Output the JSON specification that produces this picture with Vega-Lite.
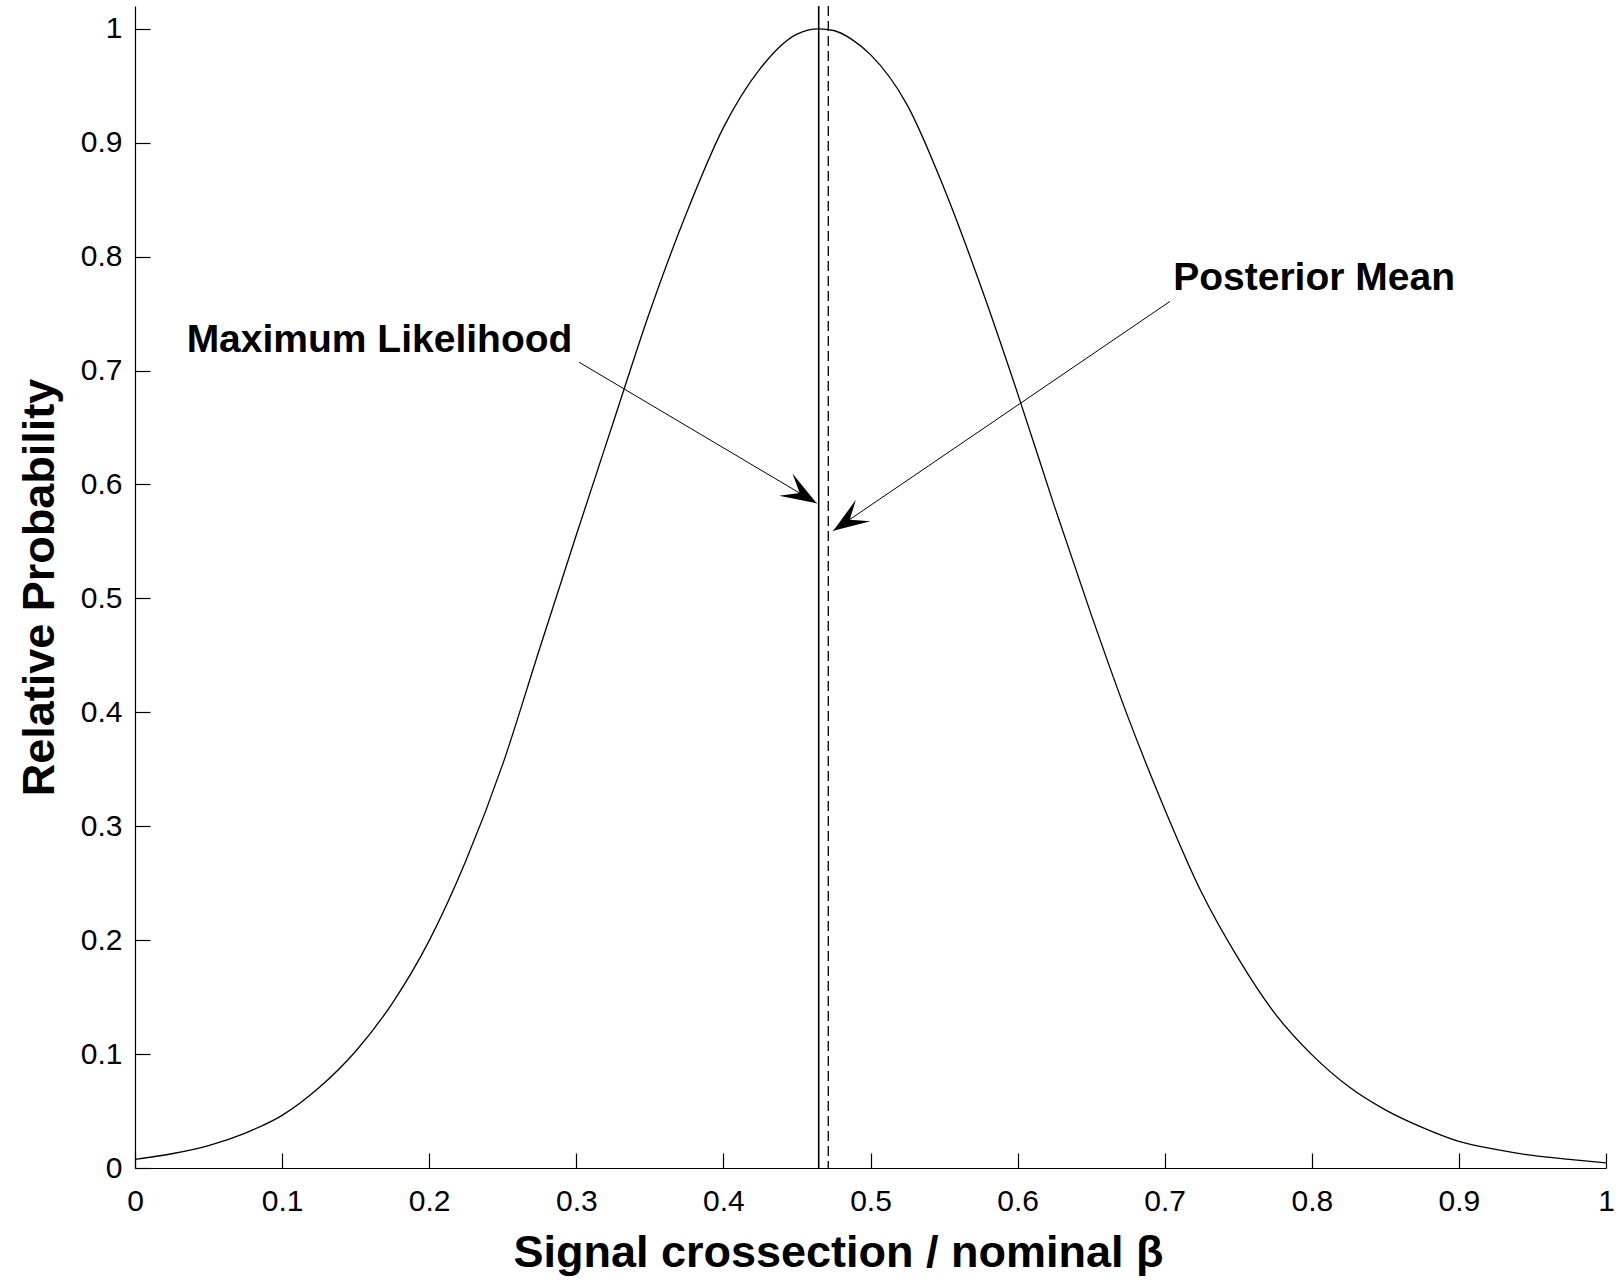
{
  "$schema": "https://vega.github.io/schema/vega-lite/v6.json",
  "width": 1471,
  "height": 1162,
  "autosize": {"type": "none"},
  "padding": {"left": 135, "top": 6, "right": 13, "bottom": 115},
  "background": "white",
  "config": {
    "view": {"stroke": null},
    "font": "Liberation Sans",
    "axis": {
      "grid": false,
      "domainColor": "black",
      "domainWidth": 1.2,
      "tickColor": "black",
      "tickWidth": 1.2,
      "tickSize": -15,
      "labelColor": "black",
      "labelFont": "Liberation Sans",
      "labelFontSize": 30,
      "titleColor": "black",
      "titleFont": "Liberation Sans",
      "titleFontSize": 45,
      "titleFontWeight": "bold"
    },
    "axisX": {"labelPadding": 33, "labelFlush": false, "titleX": 703, "titleY": 98, "titleBaseline": "alphabetic", "titleAnchor": "middle"},
    "axisY": {"labelPadding": 28, "titleX": -82, "titleY": 581, "titleBaseline": "alphabetic", "titleAngle": 270, "titleAnchor": "middle"}
  },
  "datasets": {
    "curve": [
      {"x": 0.0, "y": 0.0075}, {"x": 0.025, "y": 0.0125}, {"x": 0.05, "y": 0.0197}, {"x": 0.075, "y": 0.0307},
      {"x": 0.1, "y": 0.0462}, {"x": 0.125, "y": 0.0704}, {"x": 0.15, "y": 0.1025}, {"x": 0.175, "y": 0.1448},
      {"x": 0.2, "y": 0.1996}, {"x": 0.225, "y": 0.2699}, {"x": 0.25, "y": 0.3545}, {"x": 0.275, "y": 0.4556},
      {"x": 0.3, "y": 0.5556}, {"x": 0.325, "y": 0.654}, {"x": 0.35, "y": 0.7519}, {"x": 0.375, "y": 0.8385},
      {"x": 0.4, "y": 0.9132}, {"x": 0.425, "y": 0.965}, {"x": 0.45, "y": 0.9953}, {"x": 0.4648, "y": 1.0},
      {"x": 0.475, "y": 0.9985}, {"x": 0.4875, "y": 0.9905}, {"x": 0.5, "y": 0.9773}, {"x": 0.525, "y": 0.933},
      {"x": 0.55, "y": 0.86}, {"x": 0.575, "y": 0.774}, {"x": 0.6, "y": 0.68}, {"x": 0.625, "y": 0.581},
      {"x": 0.65, "y": 0.486}, {"x": 0.675, "y": 0.396}, {"x": 0.7, "y": 0.315}, {"x": 0.725, "y": 0.242},
      {"x": 0.75, "y": 0.184}, {"x": 0.775, "y": 0.1355}, {"x": 0.8, "y": 0.0995}, {"x": 0.825, "y": 0.0715},
      {"x": 0.85, "y": 0.051}, {"x": 0.875, "y": 0.0356}, {"x": 0.9, "y": 0.0233}, {"x": 0.925, "y": 0.0163},
      {"x": 0.95, "y": 0.011}, {"x": 0.975, "y": 0.0075}, {"x": 1.0, "y": 0.0045}
    ],
    "arrows": [
      {"arrow": "ml", "order": 1, "x": 0.3019, "y": 0.7073},
      {"arrow": "ml", "order": 2, "x": 0.4634, "y": 0.5836},
      {"arrow": "pm", "order": 1, "x": 0.7036, "y": 0.7607},
      {"arrow": "pm", "order": 2, "x": 0.4747, "y": 0.5594}
    ],
    "labels": [
      {"text": "Maximum Likelihood", "x": 0.0351, "y": 0.7166},
      {"text": "Posterior Mean", "x": 0.7058, "y": 0.7709}
    ]
  },
  "layer": [
    {
      "data": {"name": "curve"},
      "mark": {"type": "line", "color": "black", "strokeWidth": 1.3, "interpolate": "monotone", "clip": true},
      "encoding": {
        "x": {"field": "x", "type": "quantitative", "scale": {"domain": [0, 1], "nice": false},
              "axis": {"values": [0, 0.1, 0.2, 0.3, 0.4, 0.5, 0.6, 0.7, 0.8, 0.9, 1], "format": "~g"},
              "title": "Signal crossection / nominal β"},
        "y": {"field": "y", "type": "quantitative", "scale": {"domain": [0, 1.02], "nice": false},
              "axis": {"values": [0, 0.1, 0.2, 0.3, 0.4, 0.5, 0.6, 0.7, 0.8, 0.9, 1], "format": "~g"},
              "title": "Relative Probability"}
      }
    },
    {
      "data": {"values": [{"x": 0.4648}]},
      "mark": {"type": "rule", "color": "black", "strokeWidth": 1.6},
      "encoding": {"x": {"field": "x", "type": "quantitative", "title": "Signal crossection / nominal β"}}
    },
    {
      "data": {"values": [{"x": 0.4713}]},
      "mark": {"type": "rule", "color": "black", "strokeWidth": 1.3, "strokeDash": [10, 5]},
      "encoding": {"x": {"field": "x", "type": "quantitative", "title": "Signal crossection / nominal β"}}
    },
    {
      "data": {"name": "arrows"},
      "mark": {"type": "line", "color": "black", "strokeWidth": 1},
      "encoding": {
        "x": {"field": "x", "type": "quantitative", "title": "Signal crossection / nominal β"},
        "y": {"field": "y", "type": "quantitative", "title": "Relative Probability"},
        "detail": {"field": "arrow"},
        "order": {"field": "order"}
      }
    },
    {
      "data": {"name": "arrows"},
      "transform": [{"filter": "datum.arrow === 'ml' && datum.order === 2"}],
      "mark": {"type": "point", "shape": "M0,0 L0.72,2 L0,1.1 L-0.72,2 Z", "size": 1300, "angle": 121, "filled": true, "color": "black", "opacity": 1},
      "encoding": {
        "x": {"field": "x", "type": "quantitative", "title": "Signal crossection / nominal β"},
        "y": {"field": "y", "type": "quantitative", "title": "Relative Probability"}
      }
    },
    {
      "data": {"name": "arrows"},
      "transform": [{"filter": "datum.arrow === 'pm' && datum.order === 2"}],
      "mark": {"type": "point", "shape": "M0,0 L0.72,2 L0,1.1 L-0.72,2 Z", "size": 1300, "angle": 236, "filled": true, "color": "black", "opacity": 1},
      "encoding": {
        "x": {"field": "x", "type": "quantitative", "title": "Signal crossection / nominal β"},
        "y": {"field": "y", "type": "quantitative", "title": "Relative Probability"}
      }
    },
    {
      "data": {"name": "labels"},
      "mark": {"type": "text", "align": "left", "baseline": "alphabetic", "font": "Liberation Sans", "fontSize": 39, "fontWeight": "bold", "color": "black"},
      "encoding": {
        "x": {"field": "x", "type": "quantitative", "title": "Signal crossection / nominal β"},
        "y": {"field": "y", "type": "quantitative", "title": "Relative Probability"},
        "text": {"field": "text"}
      }
    }
  ]
}
